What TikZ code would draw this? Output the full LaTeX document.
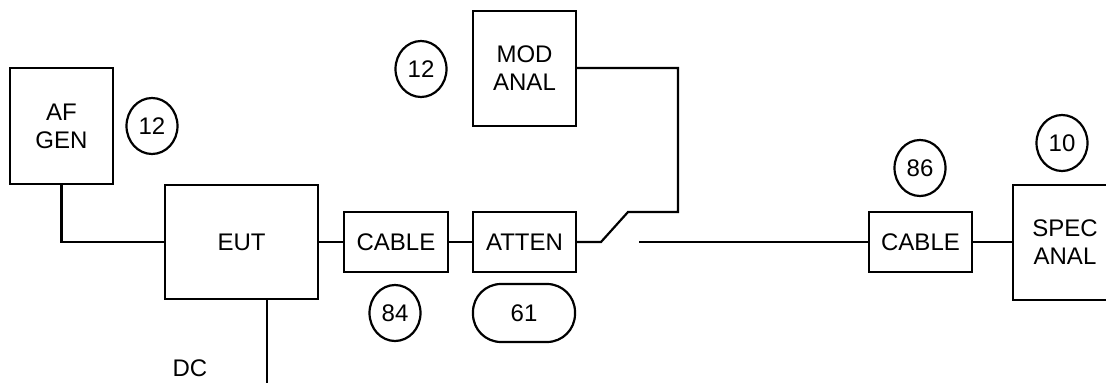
\documentclass[tikz,border=0pt]{standalone}
\usepackage{fontspec}
\setmainfont{Liberation Sans}
\usetikzlibrary{shapes.geometric}
\begin{document}
\begin{tikzpicture}[x=1pt,y=-1pt,
  every node/.style={font=\fontsize{24}{28}\selectfont, inner sep=0pt, align=center},
  blk/.style={draw, line width=2.2pt, rectangle},
  tag/.style={draw, line width=2.2pt, ellipse, minimum width=51pt, minimum height=56pt},
  wire/.style={line width=2.2pt}]
\useasboundingbox (0,0) rectangle (1106,383);
\node[blk, minimum width=103pt, minimum height=116pt] (afgen) at (61.5,126) {AF\\GEN};
\node[tag] (c12a) at (152,126) {12};
\node[blk, minimum width=153pt, minimum height=114pt] (eut) at (241.5,242) {EUT};
\node[blk, minimum width=104pt, minimum height=60pt] (cable1) at (396,242) {CABLE};
\node[blk, minimum width=103pt, minimum height=60pt] (atten) at (524.5,242) {ATTEN};
\node[blk, minimum width=103pt, minimum height=115pt] (modanal) at (524.5,68.5) {MOD\\ANAL};
\node[tag] (c12b) at (421,69) {12};
\node[tag] (c84) at (395,313) {84};
\node[draw, line width=2.2pt, rounded corners=28pt, minimum width=102pt, minimum height=58pt] (r61) at (524,313) {61};
\node[blk, minimum width=103pt, minimum height=60pt] (cable2) at (920.5,242) {CABLE};
\node[tag] (c86) at (920,168) {86};
\begin{scope}
\clip (0,0) rectangle (1106,383);
\node[blk, minimum width=104pt, minimum height=115pt] (specanal) at (1065,242.5) {SPEC\\ANAL};
\end{scope}
\node[tag] (c10) at (1062,143) {10};
\node (dc) at (190,368) {DC};
\coordinate (swa) at (601,242);
\coordinate (swb) at (628,212);
\coordinate (swc) at (678,212);
\coordinate (swd) at (678,68);
\coordinate (swe) at (639,242);
\coordinate (dcend) at (267,383);
\draw[wire] (afgen.south) |- (eut.west);
\draw[wire] (eut.east) -- (cable1.west);
\draw[wire] (cable1.east) -- (atten.west);
\draw[wire] (atten.east) -- (swa) -- (swb) -- (swc) -- (swd) -- (swd -| modanal.east);
\draw[wire] (swe) -- (cable2.west);
\draw[wire] (cable2.east) -- (specanal.west |- cable2.east);
\draw[wire] (eut.south -| dcend) -- (dcend);
\end{tikzpicture}
\end{document}
